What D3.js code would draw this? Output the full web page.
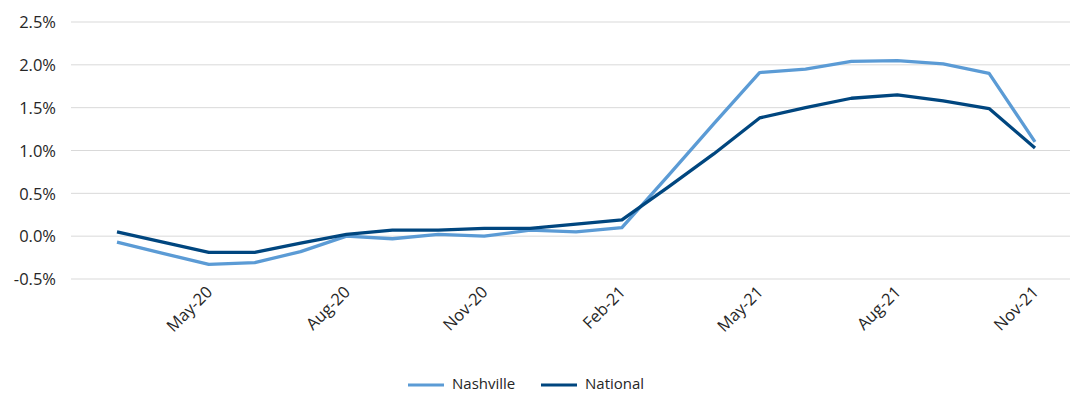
<!DOCTYPE html>
<html>
<head>
<meta charset="utf-8">
<script src="https://cdn.jsdelivr.net/npm/d3@7"></script>
<style>
  body { margin: 0; background: #fff; }
  text { font-family: "Open Sans", "Noto Sans", sans-serif; fill: #262626; }
</style>
</head>
<body>
<div id="chart"></div>
<script>
"use strict";

const months = [
  "Mar-20", "Apr-20", "May-20", "Jun-20", "Jul-20", "Aug-20", "Sep-20",
  "Oct-20", "Nov-20", "Dec-20", "Jan-21", "Feb-21", "Mar-21", "Apr-21",
  "May-21", "Jun-21", "Jul-21", "Aug-21", "Sep-21", "Oct-21", "Nov-21"
];
const tickMonths = ["May-20", "Aug-20", "Nov-20", "Feb-21", "May-21", "Aug-21", "Nov-21"];
const nashville = [
  -0.07, -0.20, -0.33, -0.31, -0.18, 0.0, -0.03, 0.02, 0.0, 0.07, 0.05,
  0.10, 0.70, 1.31, 1.91, 1.95, 2.04, 2.05, 2.01, 1.90, 1.10
];
const national = [
  0.05, -0.07, -0.19, -0.19, -0.08, 0.02, 0.07, 0.07, 0.09, 0.09, 0.14,
  0.19, 0.57, 0.96, 1.38, 1.50, 1.61, 1.65, 1.58, 1.49, 1.03
];
const yTicks = [-0.5, 0, 0.5, 1.0, 1.5, 2.0, 2.5];

const w = 1070;
const h = 394;
const colors = { Nashville: "#5b9bd5", National: "#00467f" };

const svg = d3.select("#chart").append("svg").attr("width", w).attr("height", h);

const x = d3.scalePoint().domain(months).range([117, 1035]);
const y = d3.scaleLinear().domain([-0.5, 2.5]).range([279, 22]);

// gridlines
svg.append("g")
  .selectAll("line")
  .data(yTicks)
  .enter()
  .append("line")
  .attr("x1", 71)
  .attr("x2", w)
  .attr("y1", (d) => y(d))
  .attr("y2", (d) => y(d))
  .attr("stroke", "#d9d9d9")
  .attr("stroke-width", 1);

// y axis labels
const yAxis = svg.append("g")
  .attr("transform", "translate(56,0)")
  .call(d3.axisLeft(y).tickValues(yTicks).tickSize(0).tickPadding(0)
    .tickFormat((d) => d.toFixed(1) + "%"));
yAxis.select(".domain").remove();
yAxis.selectAll("text").style("font-size", "16.5px").attr("dy", "0.35em");

// x axis labels
const xAxis = svg.append("g")
  .attr("transform", "translate(0,286)")
  .call(d3.axisBottom(x).tickValues(tickMonths).tickSize(0).tickPadding(0));
xAxis.select(".domain").remove();
xAxis.selectAll("text")
  .style("font-size", "16.5px")
  .attr("text-anchor", "end")
  .attr("dy", "0.35em")
  .attr("transform", "translate(0,3) rotate(-45)");

// lines
const series = [
  { name: "Nashville", values: nashville },
  { name: "National", values: national }
];
const line = d3.line()
  .x((d, i) => x(months[i]))
  .y((d) => y(d));

svg.append("g")
  .selectAll("path")
  .data(series)
  .enter()
  .append("path")
  .attr("d", (d) => line(d.values))
  .attr("fill", "none")
  .attr("stroke", (d) => colors[d.name])
  .attr("stroke-width", 3.3)
  .attr("stroke-linejoin", "round");

// legend
const legend = svg.append("g").attr("transform", "translate(408,385)");
const items = legend.selectAll("g")
  .data(series)
  .enter()
  .append("g")
  .attr("transform", (d, i) => "translate(" + i * 133 + ",0)");
items.append("line")
  .attr("x1", 0)
  .attr("x2", 36)
  .attr("stroke", (d) => colors[d.name])
  .attr("stroke-width", 3);
items.append("text")
  .attr("x", 44)
  .attr("y", -1)
  .attr("dy", "0.35em")
  .style("font-size", "15px")
  .text((d) => d.name);
</script>
</body>
</html>
